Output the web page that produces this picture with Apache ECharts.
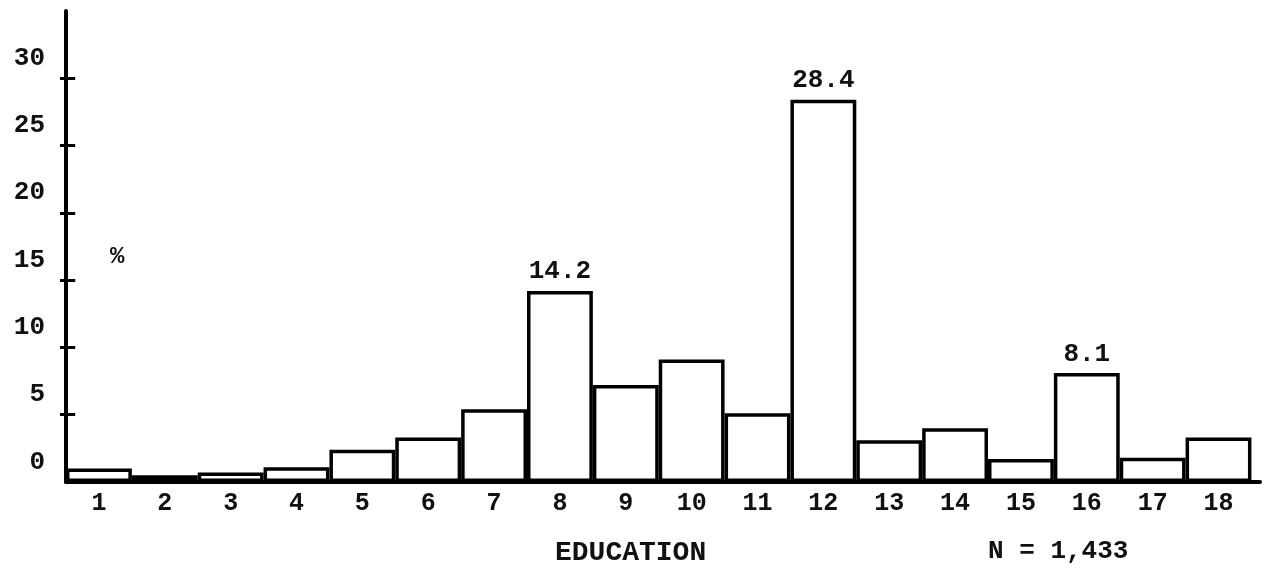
<!DOCTYPE html>
<html>
<head>
<meta charset="utf-8">
<script src="https://cdn.jsdelivr.net/npm/echarts@6/dist/echarts.min.js"></script>
<style>
  html, body { margin: 0; padding: 0; background: #ffffff; }
  #chart { width: 1282px; height: 571px; }
</style>
</head>
<body>
<div id="chart"></div>
<script>
// Education level (years) categories
const categories = [1, 2, 3, 4, 5, 6, 7, 8, 9, 10, 11, 12, 13, 14, 15, 16, 17, 18];
// Percent of respondents (8, 12, 16 are printed on the chart)
const percents = [1.0, 0.5, 0.7, 1.1, 2.4, 3.3, 5.4, 14.2, 7.2, 9.1, 5.1, 28.4, 3.1, 4.0, 1.7, 8.1, 1.8, 3.3];
// Bars whose value is printed above them
const labeledBars = [8, 12, 16];
// Y axis tick labels and tick marks
const yTickLabels = [0, 5, 10, 15, 20, 25, 30];
const yTickMarks = [5, 10, 15, 20, 25, 30];
const xAxisTitle = 'EDUCATION';
const yAxisTitle = '%';
const sampleNote = 'N = 1,433';

const FONT = '"Liberation Mono", "DejaVu Sans Mono", monospace';
const X_MIN = 0.5, X_MAX = 18.63;
const INNER_TICK = 0.14; // inner half of the crossing tick marks, in x-axis units

const chart = echarts.init(document.getElementById('chart'), null, { renderer: 'canvas' });

const seriesData = categories.map((c, i) => ({
  value: [c, percents[i]],
  label: { show: labeledBars.includes(c) }
}));

// inner halves of the y-axis tick marks (ticks cross the axis line)
const innerTicks = yTickMarks.map(v => [
  { coord: [X_MIN, v] },
  { coord: [X_MIN + INNER_TICK, v] }
]);

chart.setOption({
  backgroundColor: '#ffffff',
  animation: false,
  grid: { left: 66, right: 22, top: 11, bottom: 89, containLabel: false },
  xAxis: {
    type: 'value',
    min: X_MIN,
    max: X_MAX,
    splitLine: { show: false },
    axisLine: { show: true, onZero: false, lineStyle: { color: '#000', width: 4 } },
    axisTick: { show: false },
    axisLabel: {
      customValues: categories,
      color: '#111',
      fontFamily: FONT,
      fontWeight: 'bold',
      fontSize: 25,
      margin: 9
    }
  },
  yAxis: {
    type: 'value',
    min: 0,
    max: 35,
    splitLine: { show: false },
    axisLine: { show: true, onZero: false, lineStyle: { color: '#000', width: 4 } },
    axisTick: {
      show: true,
      inside: false,
      length: 6,
      customValues: yTickMarks,
      lineStyle: { color: '#000', width: 3 }
    },
    axisLabel: {
      customValues: yTickLabels,
      color: '#111',
      fontFamily: FONT,
      fontWeight: 'bold',
      fontSize: 26,
      margin: 21,
      verticalAlign: 'bottom',
      lineHeight: 40
    }
  },
  series: [
    {
      type: 'bar',
      data: seriesData,
      barCategoryGap: '0%',
      barWidth: '100%',
      itemStyle: { color: '#ffffff', borderColor: '#000', borderWidth: 3.5 },
      label: {
        show: false,
        position: 'top',
        distance: 6,
        color: '#111',
        fontFamily: FONT,
        fontWeight: 'bold',
        fontSize: 26,
        formatter: p => p.value[1].toFixed(1)
      },
      markLine: {
        silent: true,
        symbol: ['none', 'none'],
        label: { show: false },
        lineStyle: { color: '#000', width: 3, type: 'solid' },
        emphasis: { disabled: true },
        data: innerTicks
      }
    }
  ],
  graphic: [
    {
      type: 'text',
      left: 110, top: 245,
      style: { text: yAxisTitle, font: 'bold 24px ' + FONT, fill: '#111' }
    },
    {
      type: 'text',
      left: 555, top: 539,
      style: { text: xAxisTitle, font: 'bold 28px ' + FONT, fill: '#111' }
    },
    {
      type: 'text',
      left: 988, top: 538,
      style: { text: sampleNote, font: 'bold 26px ' + FONT, fill: '#111' }
    }
  ]
});
</script>
</body>
</html>
